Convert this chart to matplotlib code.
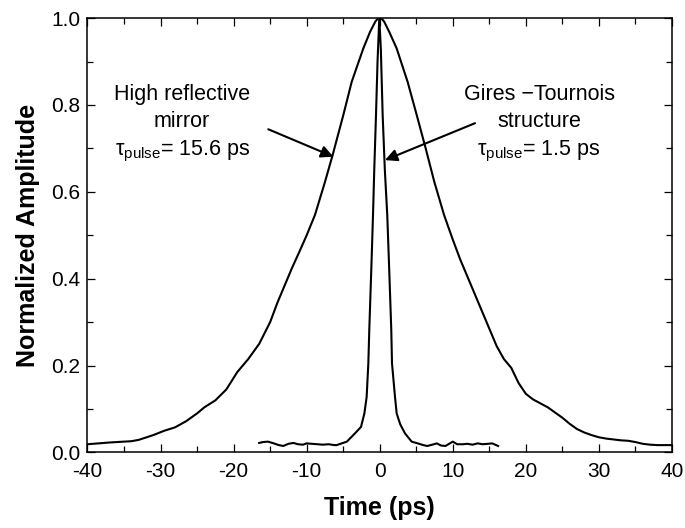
import matplotlib
matplotlib.use("Agg")
import matplotlib.pyplot as plt
from matplotlib.ticker import MultipleLocator, FormatStrFormatter

plt.rcParams['font.family'] = ['Liberation Sans', 'DejaVu Sans']
plt.rcParams['mathtext.fontset'] = 'custom'
plt.rcParams['mathtext.rm'] = 'Liberation Sans'
plt.rcParams['mathtext.it'] = 'Liberation Sans'
plt.rcParams['axes.unicode_minus'] = False

# High reflective mirror (wide pulse)
wide_t = [-40, -37, -34, -33, -31, -29.5, -28, -26.5, -25, -24, -22.5, -21, -19.5,
          -18, -16.5, -15, -14, -13, -12, -11, -10, -8.86, -7.49, -6.44, -4.98,
          -3.84, -2.25, -1.33, -0.6, -0.3, 0, 0.3, 0.6, 1.31, 2.32, 3.82, 5.06, 6.29,
          7.47, 8.8, 10, 11, 12, 13, 14, 15, 16, 17, 18, 19, 20, 21, 22, 23, 24, 25,
          26, 27, 28, 29, 30, 31, 32, 33, 34, 35, 36, 37, 38, 40]
wide_a = [0.019, 0.023, 0.026, 0.029, 0.040, 0.050, 0.058, 0.072, 0.090, 0.104, 0.120,
          0.145, 0.185, 0.215, 0.250, 0.300, 0.345, 0.385, 0.425, 0.462, 0.500, 0.547,
          0.623, 0.685, 0.777, 0.853, 0.930, 0.968, 0.992, 0.998, 1.0, 0.998, 0.992,
          0.968, 0.930, 0.853, 0.777, 0.700, 0.623, 0.547, 0.490, 0.445, 0.405, 0.365,
          0.325, 0.285, 0.245, 0.215, 0.195, 0.160, 0.135, 0.122, 0.113, 0.104, 0.092,
          0.080, 0.066, 0.054, 0.046, 0.040, 0.035, 0.032, 0.030, 0.028, 0.027, 0.024,
          0.020, 0.018, 0.017, 0.017]

# Gires-Tournois structure (narrow pulse)
narrow_t = [-16.5, -16, -15.3, -14.5, -13.8, -13.2, -12.5, -11.8, -11.2, -10.5, -10,
            -9.3, -8.5, -7.8, -7, -6.2, -5.9, -4.5, -3.39, -2.56, -2.1, -1.79, -1.56,
            -1.43, -1.1, -0.92, -0.75, -0.51, -0.3, -0.06, 0.15, 0.4, 0.7, 1.03, 1.3,
            1.58, 1.68, 2.09, 2.32, 2.8, 3.46, 4.37, 5.2, 5.96, 6.5, 7.2, 7.8, 8.4, 9.0,
            9.5, 10, 10.6, 11.4, 12, 12.7, 13.4, 14.1, 14.8, 15.4, 16.2]
narrow_a = [0.022, 0.024, 0.025, 0.021, 0.017, 0.015, 0.020, 0.022, 0.019, 0.018, 0.021,
            0.020, 0.019, 0.018, 0.019, 0.017, 0.017, 0.025, 0.044, 0.059, 0.090, 0.128,
            0.205, 0.282, 0.45, 0.547, 0.65, 0.777, 0.90, 1.0, 0.93, 0.777, 0.65, 0.547,
            0.42, 0.282, 0.205, 0.128, 0.090, 0.065, 0.044, 0.025, 0.021, 0.017, 0.015,
            0.018, 0.021, 0.016, 0.015, 0.020, 0.025, 0.019, 0.019, 0.020, 0.018, 0.021,
            0.019, 0.020, 0.021, 0.015]

fig = plt.figure(figsize=(6.85, 5.28), dpi=100)
ax = fig.add_axes([0.1277, 0.143, 0.8533, 0.8228])

ax.plot(wide_t, wide_a, color='black', lw=1.5)
ax.plot(narrow_t, narrow_a, color='black', lw=1.5)

ax.set_xlim(-40, 40)
ax.set_ylim(0, 1.0)
ax.xaxis.set_major_locator(MultipleLocator(10))
ax.xaxis.set_minor_locator(MultipleLocator(5))
ax.yaxis.set_major_locator(MultipleLocator(0.2))
ax.yaxis.set_minor_locator(MultipleLocator(0.1))
ax.yaxis.set_major_formatter(FormatStrFormatter('%.1f'))

ax.tick_params(which='both', direction='in', top=True, right=True, width=0.9,
               labelsize=15)
ax.tick_params(which='major', length=6)
ax.tick_params(axis='y', which='major', pad=5)
ax.tick_params(axis='x', which='major', pad=7)
ax.tick_params(which='minor', length=4)
for s in ax.spines.values():
    s.set_linewidth(1.1)

ax.set_xlabel('Time (ps)', fontsize=18, fontweight='bold', labelpad=11)
ax.set_ylabel('Normalized Amplitude', fontsize=18, fontweight='bold', labelpad=8)

# annotations
kw = dict(ha='center', va='baseline', fontsize=15.5)
ax.text(-27.1, 0.811, 'High reflective', **kw)
ax.text(-27.1, 0.750, 'mirror', **kw)
ax.text(-26.9, 0.685, r'$\mathrm{\tau}_{\mathrm{pulse}}$= 15.6 ps', **kw)
ax.text(21.8, 0.811, 'Gires \u2212Tournois', **kw)
ax.text(21.8, 0.750, 'structure', **kw)
ax.text(21.8, 0.685, r'$\mathrm{\tau}_{\mathrm{pulse}}$= 1.5 ps', **kw)

arrow = dict(arrowstyle='-|>', color='black', lw=1.5, mutation_scale=18,
             shrinkA=0, shrinkB=0)
ax.annotate('', xy=(-6.36, 0.681), xytext=(-15.25, 0.744), arrowprops=arrow)
ax.annotate('', xy=(0.72, 0.673), xytext=(13.04, 0.758), arrowprops=arrow)

fig.savefig('out.png', dpi=100)
